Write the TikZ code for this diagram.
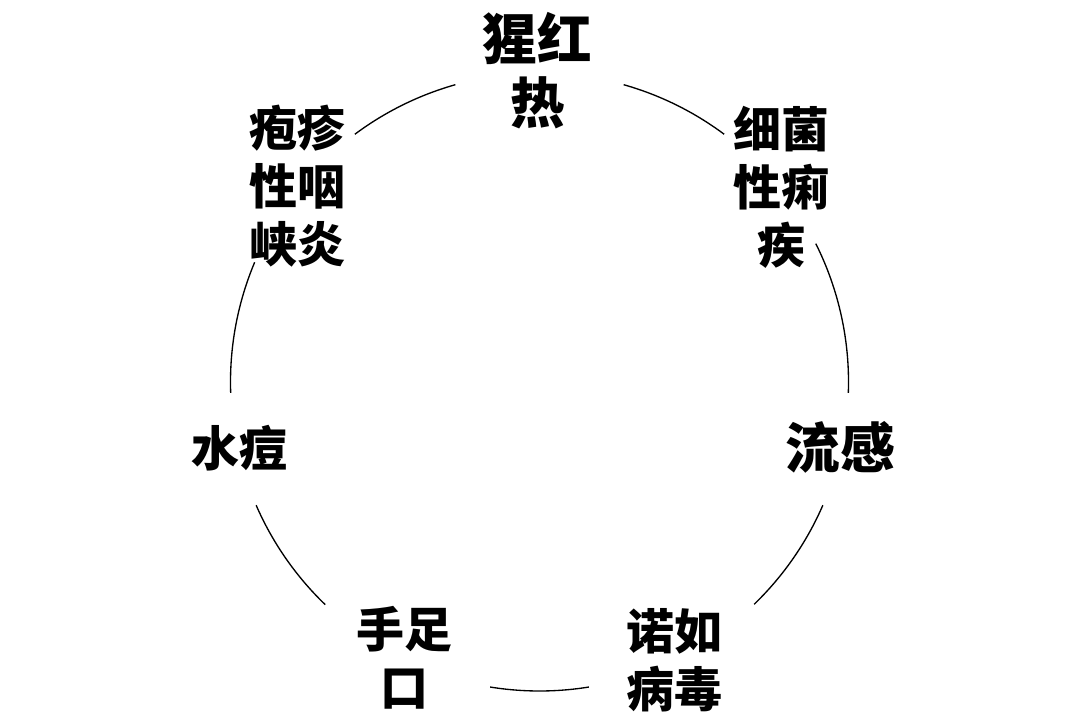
\documentclass[tikz,border=0pt]{standalone}
\usepackage{fontspec}
\newfontfamily\cjk{Noto Sans CJK SC}[BoldFont={Noto Sans CJK SC Black}]
\usetikzlibrary{positioning}

\begin{document}
\begin{tikzpicture}[
				x=0.75pt, y=0.75pt,
				disease/.style={
					align=center, inner sep=0pt,
					font=\cjk\bfseries\fontsize{36}{43.5}\selectfont
				},
				bigdisease/.style={
					disease,
					font=\cjk\bfseries\fontsize{41}{47.5}\selectfont
				},
				ring/.style={line width=1pt, black}
				]
				
				\useasboundingbox (0,0) rectangle (1080,715);
				
				% centre of the ring
				\coordinate (ctr) at (539.5,333);
				
				% top
				\node[bigdisease] (scarlet) at (537.5,644.5) {猩红\\热};
				
				% clockwise from the top
				\node[disease] (shigella) at (781,528) {细菌\\性痢\\疾};
				\node[bigdisease] (flu) at (840,267.5) {流感};
				\node[disease] (noro) at (674,55) {诺如\\病毒};
				\node[disease] (hfmd) at (404,57) {手足\\口};
				\node[disease] (varicella) at (239,267) {水痘};
				\node[disease] (herpangina) at (297.5,529) {疱疹\\性咽\\峡炎};
				
				% ring pieces between the labels
				\foreach \a/\b in {74.2/53.3, 26.6/-2, -23.5/-46, -80.8/-99.2,
					-133.9/-156.5, 182/157.2, 126.7/105.8}
				\draw[ring] ([shift={(\a:309)}]ctr) arc[start angle=\a, end angle=\b, radius=309];
			\end{tikzpicture}
\end{document}
